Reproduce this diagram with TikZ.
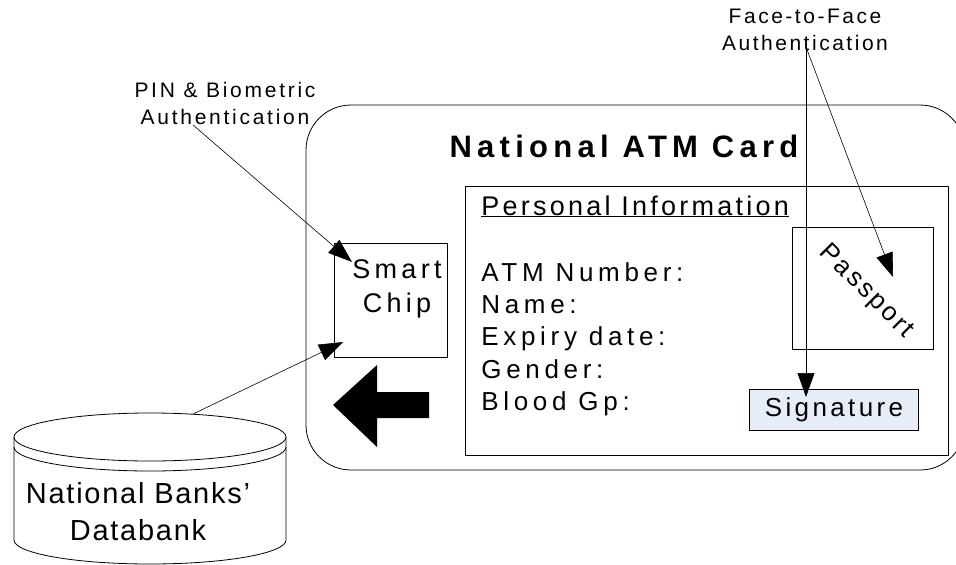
\documentclass[tikz,border=0pt]{standalone}
\usepackage{fontspec}
\setmainfont{Liberation Sans}[LetterSpace=10]
\usetikzlibrary{arrows.meta, positioning}
\definecolor{sigblue}{RGB}{230,237,248}
\newcommand\lsp[1]{\addfontfeature{LetterSpace=#1}}

\begin{document}
\begin{tikzpicture}[x=1pt, y=-1pt, line width=0.8pt,
    box/.style={draw, inner sep=0pt, outer sep=0pt},
    field/.style={inner sep=0pt, font=\fontsize{26}{32}\selectfont\lsp{18}},
    note/.style={inner sep=0pt, align=center, font=\fontsize{21}{27}\selectfont\lsp{12}},
    pointer/.style={-{Triangle[length=24pt, width=17pt]}, line width=0.6pt}]
    \path[use as bounding box, clip] (0,0) rectangle (956,565);

    % the card
    \draw[rounded corners=45] (306,105) rectangle (965,470);
    \node[inner sep=0pt, anchor=base, font=\fontsize{31}{36}\selectfont\bfseries\lsp{17}] (title) at (624,157) {National ATM Card};

    % personal information
    \node[box, minimum width=483, minimum height=269] (info) at (706.5,320.5) {};
    \node[field, anchor=base west, font=\fontsize{27}{32}\selectfont\lsp{12}] (head) at (481,215) {\underline{Personal Information}};
    \foreach \f [count=\i] in {ATM Number:, Name:, Expiry date:, Gender:, Blood Gp:}
        \node[field, anchor=base west] (f\i) at (481,249+32.3*\i) {\f};
    \node[box, minimum width=141, minimum height=122] (pass) at (862.5,288) {};
    \node[field, rotate=-45, font=\fontsize{26}{32}\selectfont\lsp{10}] (passtext) at (866,292) {Passport};
    \node[box, fill=sigblue, field, font=\fontsize{26}{32}\selectfont\lsp{13}, minimum width=169, minimum height=41] (sig) at (834,409.5) {Signature};

    % smart chip and the big arrow
    \node[box, minimum width=113, minimum height=114] (chip) at (390.5,300) {};
    \node[field, align=center, anchor=base, font=\fontsize{27}{34}\selectfont\lsp{16}] (chiptext) at (397,312) {Smart\\Chip};
    \fill (333,405) -- (377,365) -- (377,392) -- (429,392) -- (429,418)
        -- (377,418) -- (377,447) -- cycle;

    % databank
    \draw (14,437) -- (14,540) arc[start angle=180, end angle=0, x radius=136, y radius=24] -- (286,437);
    \draw (150,437) ellipse [x radius=136, y radius=24];
    \draw (14,447) arc[start angle=180, end angle=0, x radius=136, y radius=24];
    \node[note, font=\fontsize{29}{37}\selectfont\lsp{6}] (bank) at (138,512) {National Banks'\\Databank};

    % labels
    \node[note, anchor=north, font=\fontsize{21}{27}\selectfont\lsp{13}] (pin) at (225,82) {PIN \& Biometric\\Authentication};
    \node[note, anchor=north] (face) at (805,9) {Face-to-Face\\Authentication};

    \coordinate (pinfrom) at (193,125);
    \coordinate (pinto) at (352,262);
    \coordinate (bankfrom) at (193,414);
    \coordinate (bankto) at (343,342);
    \coordinate (facefrom) at (806,47);
    \coordinate (passto) at (893,277);
    \coordinate (sigto) at (806,397);

    \draw[pointer] (pinfrom) -- (pinto);
    \draw[pointer] (bankfrom) -- (bankto);
    \draw[pointer] (facefrom) -- (sigto);
    \draw[pointer] (facefrom) -- (passto);
\end{tikzpicture}
\end{document}
